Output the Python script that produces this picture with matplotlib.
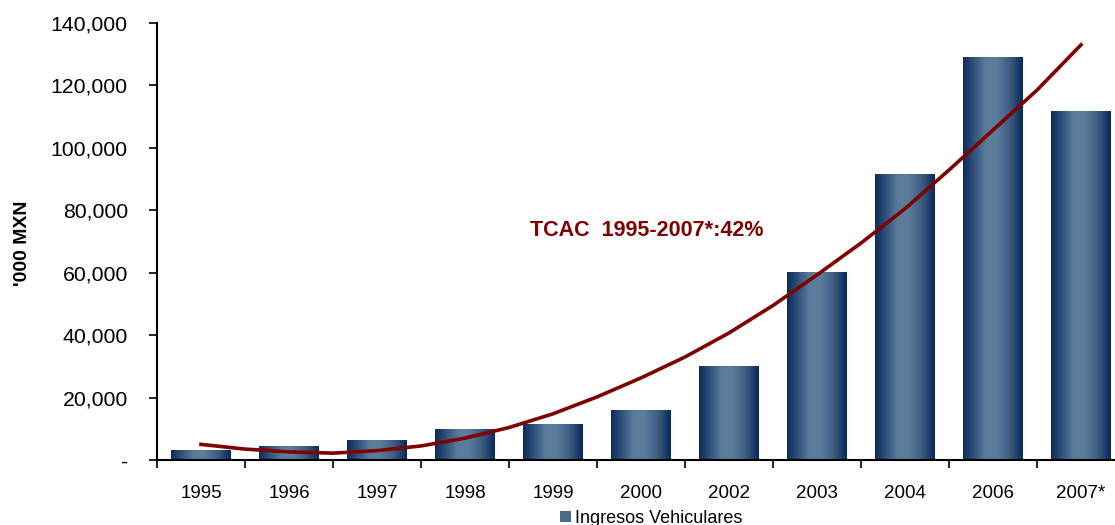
# Ingresos vehiculares 1995-2007* con línea de tendencia

import numpy as np
import matplotlib.pyplot as plt
from matplotlib.colors import LinearSegmentedColormap
from matplotlib.patches import Patch
from matplotlib.ticker import FuncFormatter

# DATOS
YEARS = ['1995', '1996', '1997', '1998', '1999', '2000',
         '2002', '2003', '2004', '2006', '2007*']
INGRESOS = [3200, 4200, 6400, 9900, 11500, 16000,
            30100, 60000, 91600, 128800, 111800]      # '000 MXN

# Línea de tendencia (paso de media categoría)
TREND_X = [0, 0.5, 1, 1.5, 2, 2.5, 3, 3.5, 4, 4.5, 5,
           5.5, 6, 6.5, 7, 7.5, 8, 8.5, 9, 9.5, 10]
TREND_Y = [5000, 3500, 2600, 2200, 3000, 4500, 7000, 10400, 14800, 20200, 26300,
           33000, 40700, 49500, 59300, 69500, 80500, 92900, 105700, 118500, 133000]

LABEL = 'TCAC  1995-2007*:42%'
FONT = 'Liberation Sans'
RED = '#800000'

def main():
    plt.rcParams['font.family'] = [FONT, 'DejaVu Sans']

    fig = plt.figure(figsize=(11.15, 5.25), dpi=100)
    ax = fig.add_axes([157 / 1115, 1 - 460 / 525, 968 / 1115, 437 / 525])

    # Degradado horizontal de las barras
    cmap = LinearSegmentedColormap.from_list(
        'barra', [(0.0, '#0b2c5c'), (0.38, '#5b7b9d'), (0.55, '#5e7e9e'),
                  (0.8, '#3a5a80'), (1.0, '#07285a')])
    grad = np.linspace(0, 1, 256).reshape(1, -1)

    width = 0.68
    x = np.arange(len(YEARS))
    bars = ax.bar(x, INGRESOS, width, color='none', edgecolor='none', zorder=2)
    for b in bars:
        x0, h = b.get_x(), b.get_height()
        ax.imshow(grad, cmap=cmap, aspect='auto', zorder=2,
                  extent=[x0, x0 + width, 0, h], interpolation='bicubic')

    ax.plot(TREND_X, TREND_Y, color=RED, linewidth=2.6, zorder=3)

    ax.text(5.06, 73500, LABEL, color=RED, fontsize=15.5, fontweight='bold',
            ha='center', va='center')

    ax.set_xlim(-0.5, len(YEARS) - 0.5)
    ax.set_ylim(0, 140000)

    # Ejes
    ax.spines['top'].set_visible(False)
    ax.spines['right'].set_visible(False)
    ax.spines['left'].set_linewidth(1.5)
    ax.spines['bottom'].set_linewidth(1.5)

    ax.set_yticks(range(0, 140001, 20000))
    ax.yaxis.set_major_formatter(FuncFormatter(lambda v, p: '-' if v == 0 else f'{v:,.0f}'))
    ax.tick_params(axis='y', direction='out', length=6, width=1.2, pad=15, labelsize=15.3)

    ax.set_xticks(x)
    ax.set_xticklabels(YEARS)
    ax.set_xticks(np.arange(-0.5, len(YEARS), 1.0), minor=True)
    ax.tick_params(axis='x', which='major', length=0, pad=18, labelsize=13.5)
    ax.tick_params(axis='x', which='minor', direction='out', length=6, width=1.2)

    fig.text(0.02, 1 - 243 / 525, "'000 MXN", rotation=90, fontsize=14,
             fontweight='bold', ha='center', va='center')

    handle = Patch(facecolor='#4a6a8e', edgecolor='none')
    fig.legend([handle], ['Ingresos Vehiculares'], loc='lower center',
               bbox_to_anchor=(0.584, -0.035), frameon=False, fontsize=13,
               handlelength=0.6, handleheight=0.6, handletextpad=0.2)

    fig.savefig('out.png', dpi=100)

if __name__ == '__main__':
    main()
